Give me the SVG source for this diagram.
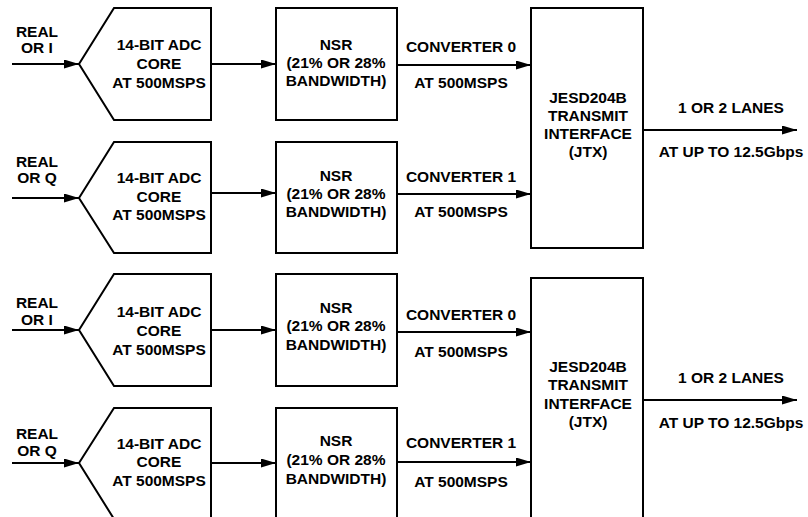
<svg xmlns="http://www.w3.org/2000/svg" width="808" height="517" viewBox="0 0 808 517">
<defs>
<marker id="ah" markerUnits="userSpaceOnUse" markerWidth="16" markerHeight="10" refX="15" refY="4.5" orient="auto">
<path d="M0,0 L15,4.5 L0,9 z" fill="#000"/>
</marker>
<style>
.s{fill:#fff;stroke:#000;stroke-width:2}
.c{fill:none;stroke:#000;stroke-width:2;marker-end:url(#ah)}
text{font-family:"Liberation Sans",Arial,sans-serif;font-weight:bold;font-size:15.5px;text-anchor:middle;fill:#000}
</style>
</defs>
<rect width="808" height="517" fill="#fff"/>
<g id="connectors">
<line class="c" x1="12" y1="64" x2="79" y2="64"/>
<line class="c" x1="211" y1="64" x2="276" y2="64"/>
<line class="c" x1="397" y1="65" x2="531" y2="65"/>
<line class="c" x1="12" y1="198" x2="79" y2="198"/>
<line class="c" x1="211" y1="193" x2="276" y2="193"/>
<line class="c" x1="397" y1="194" x2="531" y2="194"/>
<line class="c" x1="643" y1="130" x2="797" y2="130"/>
<line class="c" x1="12" y1="330" x2="79" y2="330"/>
<line class="c" x1="211" y1="330" x2="276" y2="330"/>
<line class="c" x1="397" y1="332" x2="531" y2="332"/>
<line class="c" x1="12" y1="463" x2="79" y2="463"/>
<line class="c" x1="211" y1="463" x2="276" y2="463"/>
<line class="c" x1="397" y1="462" x2="531" y2="462"/>
<line class="c" x1="643" y1="400" x2="797" y2="400"/>
</g>
<g id="in1"><text x="37" y="37">REAL</text><text x="37" y="53">OR I</text></g>
<g id="in2"><text x="37" y="167">REAL</text><text x="37" y="183">OR Q</text></g>
<g id="in3"><text x="37" y="308">REAL</text><text x="37" y="325">OR I</text></g>
<g id="in4"><text x="37" y="439">REAL</text><text x="37" y="456">OR Q</text></g>
<g id="adc1"><polygon class="s" points="79,64 114,8 211,8 211,120 114,120"/><text x="159" y="50">14-BIT ADC</text><text x="159" y="69">CORE</text><text x="159" y="88">AT 500MSPS</text></g>
<g id="adc2"><polygon class="s" points="79,198 114,142 211,142 211,253 114,253"/><text x="159" y="183">14-BIT ADC</text><text x="159" y="202">CORE</text><text x="159" y="220">AT 500MSPS</text></g>
<g id="adc3"><polygon class="s" points="79,330 114,274 211,274 211,386 114,386"/><text x="159" y="317">14-BIT ADC</text><text x="159" y="336">CORE</text><text x="159" y="355">AT 500MSPS</text></g>
<g id="adc4"><polygon class="s" points="79,463 114,408 211,408 211,519 114,519"/><text x="159" y="449">14-BIT ADC</text><text x="159" y="467">CORE</text><text x="159" y="486">AT 500MSPS</text></g>
<g id="nsr1"><rect class="s" x="276" y="8" width="121" height="112"/><text x="336" y="50">NSR</text><text x="336" y="68">(21% OR 28%</text><text x="336" y="86">BANDWIDTH)</text></g>
<g id="nsr2"><rect class="s" x="276" y="142" width="121" height="111"/><text x="336" y="181">NSR</text><text x="336" y="199">(21% OR 28%</text><text x="336" y="217">BANDWIDTH)</text></g>
<g id="nsr3"><rect class="s" x="276" y="274" width="121" height="112"/><text x="336" y="313">NSR</text><text x="336" y="331">(21% OR 28%</text><text x="336" y="350">BANDWIDTH)</text></g>
<g id="nsr4"><rect class="s" x="276" y="408" width="121" height="112"/><text x="336" y="446">NSR</text><text x="336" y="465">(21% OR 28%</text><text x="336" y="484">BANDWIDTH)</text></g>
<g id="conv1"><text x="461" y="52">CONVERTER 0</text><text x="461" y="88">AT 500MSPS</text></g>
<g id="conv2"><text x="461" y="182">CONVERTER 1</text><text x="461" y="217">AT 500MSPS</text></g>
<g id="conv3"><text x="461" y="320">CONVERTER 0</text><text x="461" y="357">AT 500MSPS</text></g>
<g id="conv4"><text x="461" y="448">CONVERTER 1</text><text x="461" y="487">AT 500MSPS</text></g>
<g id="jtx1"><rect class="s" x="531" y="8" width="112" height="240"/><text x="588" y="103">JESD204B</text><text x="588" y="121">TRANSMIT</text><text x="588" y="139">INTERFACE</text><text x="588" y="157">(JTX)</text></g>
<g id="jtx2"><rect class="s" x="531" y="278" width="112" height="245"/><text x="588" y="372">JESD204B</text><text x="588" y="390">TRANSMIT</text><text x="588" y="409">INTERFACE</text><text x="588" y="427">(JTX)</text></g>
<g id="out1"><text x="731" y="113">1 OR 2 LANES</text><text x="731" y="157">AT UP TO 12.5Gbps</text></g>
<g id="out2"><text x="731" y="383">1 OR 2 LANES</text><text x="731" y="428">AT UP TO 12.5Gbps</text></g>
</svg>
